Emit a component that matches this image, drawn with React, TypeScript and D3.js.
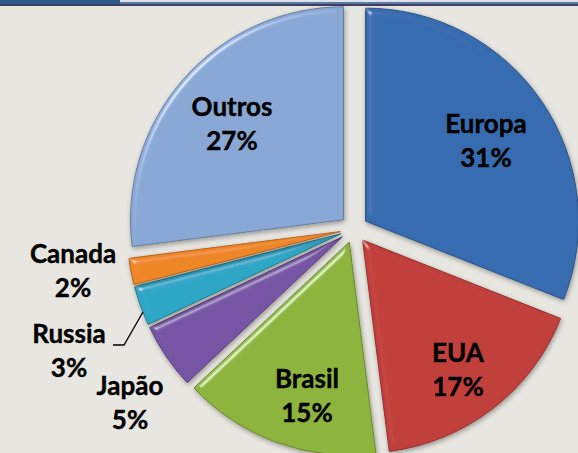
import React from "react";
import * as d3 from "d3";

const categories = ["Europa", "EUA", "Brasil", "Japão", "Russia", "Canada", "Outros"];
const values = [31, 17, 15, 5, 3, 2, 27];
const colors = ["#386cb0", "#c23f3b", "#8db43c", "#7656a4", "#2ea6c6", "#ee8626", "#8aa8d5"];
// label anchor (centre x, first baseline y)
const labelPos: [number, number][] = [
  [486, 133],
  [458, 362],
  [307, 388],
  [130, 395],
  [69, 343],
  [73, 263],
  [232, 116],
];

const W = 578;
const H = 453;
const cx = 354;
const cy = 229;
const R = 213;
const explode = 14;

export default function App() {
  const pie = d3.pie<number>().sort(null).startAngle(0).endAngle(2 * Math.PI);
  const arcs = pie(values);
  const arc = d3.arc<d3.PieArcDatum<number>>().innerRadius(0).outerRadius(R);

  return (
    <svg
      width={W}
      height={H}
      style={{ position: "absolute", left: 0, top: 0, display: "block" }}
    >
      <defs>
        <filter id="bevel" x="-10%" y="-10%" width="120%" height="120%">
          <feGaussianBlur in="SourceAlpha" stdDeviation="3" result="blur" />
          <feSpecularLighting
            in="blur"
            surfaceScale="4"
            specularConstant="0.7"
            specularExponent="60"
            lightingColor="#ffffff"
            result="spec"
          >
            <feDistantLight azimuth="225" elevation="40" />
          </feSpecularLighting>
          <feComposite in="spec" in2="SourceAlpha" operator="in" result="specIn" />
          <feComposite
            in="SourceGraphic"
            in2="specIn"
            operator="arithmetic"
            k1="0"
            k2="1"
            k3="0.7"
            k4="0"
            result="lit"
          />
        </filter>
        <filter id="shadow" x="-10%" y="-10%" width="120%" height="120%">
          <feGaussianBlur in="SourceAlpha" stdDeviation="2.5" />
          <feOffset dx="1" dy="2" result="off" />
          <feComponentTransfer>
            <feFuncA type="linear" slope="0.35" />
          </feComponentTransfer>
          <feMerge>
            <feMergeNode />
            <feMergeNode in="SourceGraphic" />
          </feMerge>
        </filter>
      </defs>
      <rect x={0} y={0} width={W} height={H} fill="#e8e6e0" />
      {/* header lines */}
      <rect x={0} y={0} width={W} height={2} fill="#dfe2ea" />
      <rect x={0} y={2} width={W} height={2} fill="#5b79a3" />
      <rect x={0} y={4} width={W} height={2} fill="#3d4063" />
      <rect x={0} y={0} width={120} height={4} fill="#2f5b8f" />

      {arcs.map((a, i) => {
        const mid = (a.startAngle + a.endAngle) / 2;
        const dx = Math.sin(mid) * explode;
        const dy = -Math.cos(mid) * explode;
        const base = d3.color(colors[i])!;
        const dark = base.darker(0.8).formatHex();
        return (
          <g key={categories[i]} transform={`translate(${cx + dx},${cy + dy})`} filter="url(#shadow)">
            <path
              d={arc(a) || ""}
              fill={colors[i]}
              stroke={dark}
              strokeWidth={1}
              filter="url(#bevel)"
            />
          </g>
        );
      })}

      <polyline
        points="113,345 124,345 143,312"
        fill="none"
        stroke="#000"
        strokeWidth={1.3}
      />

      {categories.map((c, i) => (
        <text
          key={c}
          x={labelPos[i][0]}
          y={labelPos[i][1]}
          textAnchor="middle"
          fontFamily="Lato, 'Noto Sans', sans-serif"
          fontWeight="bold"
          fontSize={26}
          fill="#000"
          stroke="#000"
          strokeWidth={0.4}
        >
          <tspan x={labelPos[i][0]}>{c}</tspan>
          <tspan x={labelPos[i][0]} dy={34}>
            {values[i]}%
          </tspan>
        </text>
      ))}
    </svg>
  );
}
